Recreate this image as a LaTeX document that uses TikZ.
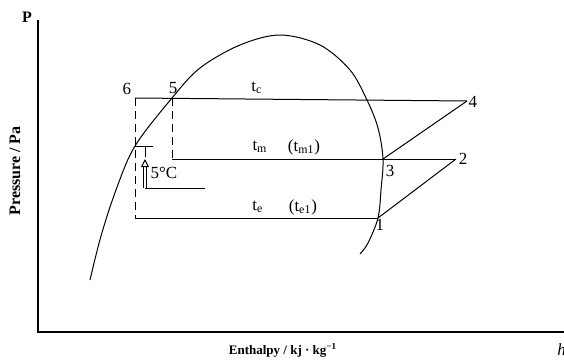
\documentclass[tikz,border=0pt]{standalone}
\usepackage{fontspec}
\setmainfont{Liberation Serif}
\usetikzlibrary{positioning,arrows.meta,calc}

\begin{document}
\begin{tikzpicture}[
                    x=0.5pt, y=-0.5pt,
                    axis/.style={line width=0.6pt},
                    cyc/.style={line width=0.5pt},
                    guide/.style={line width=0.5pt, dash pattern=on 4pt off 2.5pt},
                    pt/.style={font=\fontsize{8.5}{10}\selectfont, inner sep=1pt},
                    temp/.style={font=\fontsize{8.5}{10}\selectfont, inner sep=1pt},
                    axlbl/.style={font=\bfseries\fontsize{8}{9}\selectfont, inner sep=1pt}
                ]
                    \useasboundingbox (0,0) rectangle (564,360);

                    % Axes
                    \coordinate (o) at (38,332);
                    \coordinate (ytop) at (38,20);
                    \coordinate (xend) at (564,332);
                    \draw[axis] (ytop) -- (o) -- (xend);
                    \node[axlbl] (plbl) at (27,17) {P};
                    \node[axlbl, rotate=90] (ylbl) at (15,171) {Pressure / Pa};
                    \node[axlbl, font=\bfseries\fontsize{6.5}{8}\selectfont] (xlbl) at (283,350) {Enthalpy / kj · kg\textsuperscript{−1}};
                    \node[pt, font=\itshape\fontsize{8.5}{10}\selectfont, anchor=west] (hlbl) at (555,350) {h};

                    % Cycle points
                    \coordinate (p6) at (135,98);
                    \coordinate (p5) at (172,98);
                    \coordinate (p4) at (467,101);
                    \coordinate (p3) at (383,159);
                    \coordinate (p2) at (456,159);
                    \coordinate (p1) at (378,218);
                    \coordinate (pm) at (172,159);
                    \coordinate (pe) at (135,218);
                    \coordinate (ps) at (135,146);

                    % Saturation curve
                    \draw[cyc] plot[smooth, tension=0.55] coordinates {(90,280) (101,236) (116,190) (ps) (p5) (200,68) (240,45) (280,35) (320,45) (350,70) (367,100) (378,128) (p3) (381,190) (p1) (368,243) (360,254)};

                    % Cycle lines
                    \draw[cyc] (p6) -- (p4);
                    \draw[cyc] (pm) -- (p2);
                    \draw[cyc] (pe) -- (p1);
                    \draw[cyc] (p1) -- (p2);
                    \draw[cyc] (p3) -- (p4);
                    \draw[guide] (p6) -- (pe);
                    \draw[guide] (p5) -- (pm);

                    % Point labels
                    \node[pt] (l6) at (127,89) {6};
                    \node[pt] (l5) at (173,88) {5};
                    \node[pt] (l4) at (473,102) {4};
                    \node[pt] (l3) at (390,171) {3};
                    \node[pt] (l2) at (463,159) {2};
                    \node[pt] (l1) at (380,225) {1};

                    % Temperatures
                    \node[temp] (tc) at (257,88) {t\textsubscript{c}};
                    \node[temp] (tm) at (260,147) {t\textsubscript{m}};
                    \node[temp] (tmo) at (304,147) {(t\textsubscript{m1})};
                    \node[temp] (te) at (258,207) {t\textsubscript{e}};
                    \node[temp] (teo) at (303,207) {(t\textsubscript{e1})};

                    % Subcooling marker
                    \coordinate (bar) at (145,146);
                    \coordinate (barlow) at (145,157);
                    \coordinate (lead) at (205,188);
                    \coordinate (corner) at (145,188);
                    \draw[cyc] (ps) -- ++(18,0);
                    \draw[cyc] (bar) -- (barlow);
                    \draw[cyc] (lead) -- (corner);
                    \draw[cyc, double, double distance=0.8pt, -{Triangle[open, length=4pt, width=4pt]}] (corner) -- (145,159);
                    \node[pt] (sc) at (164,173) {5°C};
                \end{tikzpicture}
\end{document}
